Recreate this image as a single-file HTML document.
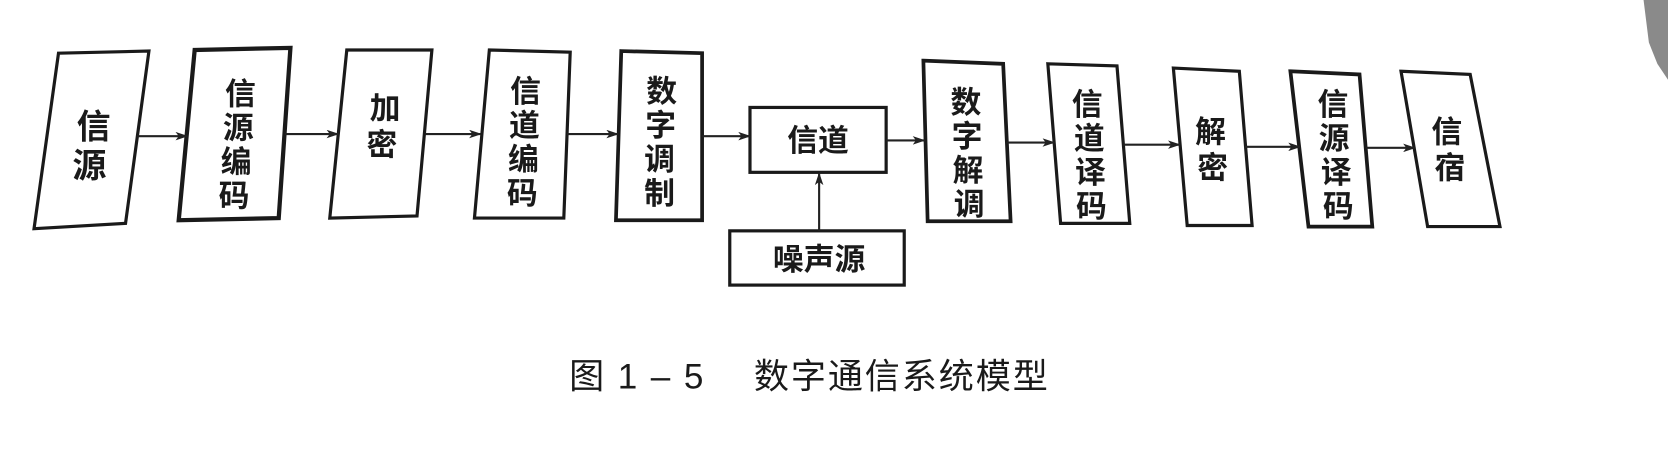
<!DOCTYPE html>
<html><head><meta charset="utf-8"><style>
html,body{margin:0;padding:0;background:#fff;}
svg text{font-family:"Liberation Sans","Noto Sans CJK SC",sans-serif;fill:#1a1a1a;}
</style></head><body>
<svg width="1668" height="448" viewBox="0 0 1668 448" xmlns="http://www.w3.org/2000/svg">
<defs><marker id="a" markerWidth="12" markerHeight="8" refX="11" refY="4" orient="auto" markerUnits="userSpaceOnUse"><path d="M0,0 L12,4 L0,8 L3,4 Z" fill="#222"/></marker></defs>
<g transform="scale(1.0638)">
<path d="M1545,0 L1568,0 L1568,75 L1558,60 L1550,40 Z" fill="#8a8a8a"/>
<g fill="#fff" stroke="#1a1a1a" stroke-width="3">
<polygon points="55,50 140,48 118,210 32,215"/>
<polygon points="183,47 273,45 262,205 168,207" stroke-width="4"/>
<polygon points="326,47 406,47 392,203 310,205"/>
<polygon points="460,47 536,49 530,205 446,205"/>
<polygon points="584,48 660,50 660,207 579,207" stroke-width="3.5"/>
<rect x="705" y="101" width="128" height="61"/>
<polygon points="868,57 943,60 950,208 872,208" stroke-width="3.5"/>
<polygon points="985,60 1050,62 1062,210 997,210"/>
<polygon points="1103,64 1165,67 1177,212 1116,212"/>
<polygon points="1213,67 1278,70 1290,213 1230,213" stroke-width="3.5"/>
<polygon points="1317,67 1382,70 1410,213 1342,213"/>
<rect x="686" y="217" width="164" height="51"/>
</g>
<g stroke="#222" stroke-width="2" marker-end="url(#a)">
<line x1="129" y1="128" x2="176" y2="128"/>
<line x1="268" y1="126" x2="318" y2="126"/>
<line x1="400" y1="126" x2="452" y2="126"/>
<line x1="533" y1="126" x2="581" y2="126"/>
<line x1="660" y1="128" x2="705" y2="128"/>
<line x1="833" y1="132" x2="869" y2="132"/>
<line x1="946" y1="134" x2="991" y2="134"/>
<line x1="1056" y1="136" x2="1109" y2="136"/>
<line x1="1170" y1="138" x2="1222" y2="138"/>
<line x1="1284" y1="139" x2="1330" y2="139"/>
<line x1="770" y1="217" x2="770" y2="163"/>
</g>
<g font-size="32" text-anchor="middle" font-weight="bold">
<text x="88" y="130">信</text><text x="84" y="167">源</text>
</g>
<g font-size="29" text-anchor="middle" font-weight="bold">
<text x="226" y="98">信</text><text x="224" y="130">源</text><text x="222" y="162">编</text><text x="220" y="194">码</text>
<text x="362" y="112">加</text><text x="359" y="146">密</text>
<text x="494" y="96">信</text><text x="493" y="128">道</text><text x="492" y="160">编</text><text x="491" y="192">码</text>
<text x="622" y="96">数</text><text x="621" y="128">字</text><text x="620" y="160">调</text><text x="620" y="192">制</text>
<text x="769" y="142">信道</text>
<text x="908" y="106">数</text><text x="909" y="138">字</text><text x="910" y="170">解</text><text x="911" y="202">调</text>
<text x="1022" y="108">信</text><text x="1024" y="140">道</text><text x="1025" y="172">译</text><text x="1026" y="204">码</text>
<text x="1138" y="134">解</text><text x="1140" y="168">密</text>
<text x="1253" y="108">信</text><text x="1254" y="140">源</text><text x="1256" y="172">译</text><text x="1258" y="204">码</text>
<text x="1360" y="134">信</text><text x="1363" y="168">宿</text>
<text x="770" y="254">噪声源</text>
</g>
<text x="535" y="365" font-size="33" textLength="450" lengthAdjust="spacing" font-family="'Liberation Serif','Noto Serif CJK SC',serif">图 1 – 5　 数字通信系统模型</text>
</g>
</svg>
</body></html>
